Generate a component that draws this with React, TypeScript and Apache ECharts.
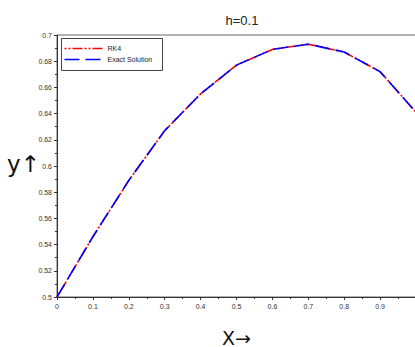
import React, { useEffect, useRef } from "react";
import * as echarts from "echarts";

const xValues = [0, 0.1, 0.2, 0.3, 0.4, 0.5, 0.6, 0.7, 0.8, 0.9, 1.0];
const rk4Values = [0.5, 0.546, 0.589, 0.627, 0.655, 0.677, 0.689, 0.693, 0.687, 0.672, 0.641];
const exactValues = [0.5, 0.546, 0.589, 0.627, 0.655, 0.677, 0.689, 0.693, 0.687, 0.672, 0.641];
const seriesNames = ["RK4", "Exact Solution"];
const titleText = "h=0.1";
const xLabelText = "X\u2192";
const yLabelText = "y\u2191";

const RED = "#ff0000";
const BLUE = "#0000ff";
const RED_DASH = [2, 2, 2, 2, 10, 2];
const BLUE_DASH = [15, 6];

export default function App() {
  const ref = useRef<HTMLDivElement>(null);
  useEffect(() => {
    if (!ref.current) return;
    const chart = echarts.init(ref.current, null, { renderer: "svg" });
    const axisColor = "#333";
    const font = "Liberation Sans, Arial, sans-serif";
    const labelStyle = { fontSize: 7, color: "#333", fontFamily: font };
    chart.setOption({
      animation: false,
      backgroundColor: "#fff",
      title: {
        text: titleText,
        left: 237,
        top: 9,
        textAlign: "center",
        textStyle: { fontSize: 13, fontWeight: "normal", color: "#222", fontFamily: font },
      },
      grid: {
        left: 57,
        top: 35,
        width: 359,
        height: 262,
        show: true,
        borderColor: "#666",
        borderWidth: 1,
        containLabel: false,
        outerBoundsMode: "none",
      },
      xAxis: {
        type: "value",
        min: 0,
        max: 1,
        interval: 0.1,
        axisLine: { lineStyle: { color: axisColor } },
        axisTick: { length: 3, lineStyle: { color: axisColor } },
        minorTick: { show: true, splitNumber: 2, length: 2, lineStyle: { color: axisColor } },
        splitLine: { show: false },
        axisLabel: { ...labelStyle, margin: 6, showMaxLabel: false, formatter: (v: number) => String(+v.toFixed(2)) },
        name: xLabelText,
        nameLocation: "middle",
        nameGap: 31,
        nameTextStyle: { fontSize: 19, color: "#111", fontFamily: "DejaVu Sans, sans-serif" },
      },
      yAxis: {
        type: "value",
        min: 0.5,
        max: 0.7,
        interval: 0.02,
        axisLine: { show: true, lineStyle: { color: axisColor } },
        axisTick: { show: true, length: 3, lineStyle: { color: axisColor } },
        minorTick: { show: true, splitNumber: 2, length: 2, lineStyle: { color: axisColor } },
        splitLine: { show: false },
        axisLabel: { ...labelStyle, margin: 5, formatter: (v: number) => String(+v.toFixed(2)) },
      },
      graphic: [
        {
          type: "text",
          left: 7,
          top: 152,
          style: { text: yLabelText, fontSize: 23, fill: "#111", fontFamily: "DejaVu Sans, sans-serif" },
        },
        {
          type: "group",
          left: 61,
          top: 38,
          children: [
            { type: "rect", shape: { x: 0, y: 0, width: 101, height: 32 }, style: { fill: "#fff", stroke: "#444", lineWidth: 1 } },
            { type: "line", shape: { x1: 3, y1: 10, x2: 41, y2: 10 }, style: { stroke: RED, lineWidth: 1.6, lineDash: RED_DASH } },
            { type: "line", shape: { x1: 3, y1: 21, x2: 41, y2: 21 }, style: { stroke: BLUE, lineWidth: 1.6, lineDash: BLUE_DASH } },
            { type: "text", x: 46, y: 10, style: { text: seriesNames[0], fontSize: 7, fill: "#222", fontFamily: font, verticalAlign: "middle" } },
            { type: "text", x: 46, y: 21, style: { text: seriesNames[1], fontSize: 7, fill: "#222", fontFamily: font, verticalAlign: "middle" } },
          ],
        },
      ],
      series: [
        {
          name: seriesNames[0],
          type: "line",
          symbol: "none",
          data: xValues.map((x, i) => [x, rk4Values[i]]),
          lineStyle: { color: RED, width: 1.6, type: RED_DASH },
        },
        {
          name: seriesNames[1],
          type: "line",
          symbol: "none",
          data: xValues.map((x, i) => [x, exactValues[i]]),
          lineStyle: { color: BLUE, width: 1.6, type: BLUE_DASH },
        },
      ],
    });
    return () => chart.dispose();
  }, []);
  return <div ref={ref} style={{ position: "fixed", left: 0, top: 0, width: 415, height: 347 }} />;
}
